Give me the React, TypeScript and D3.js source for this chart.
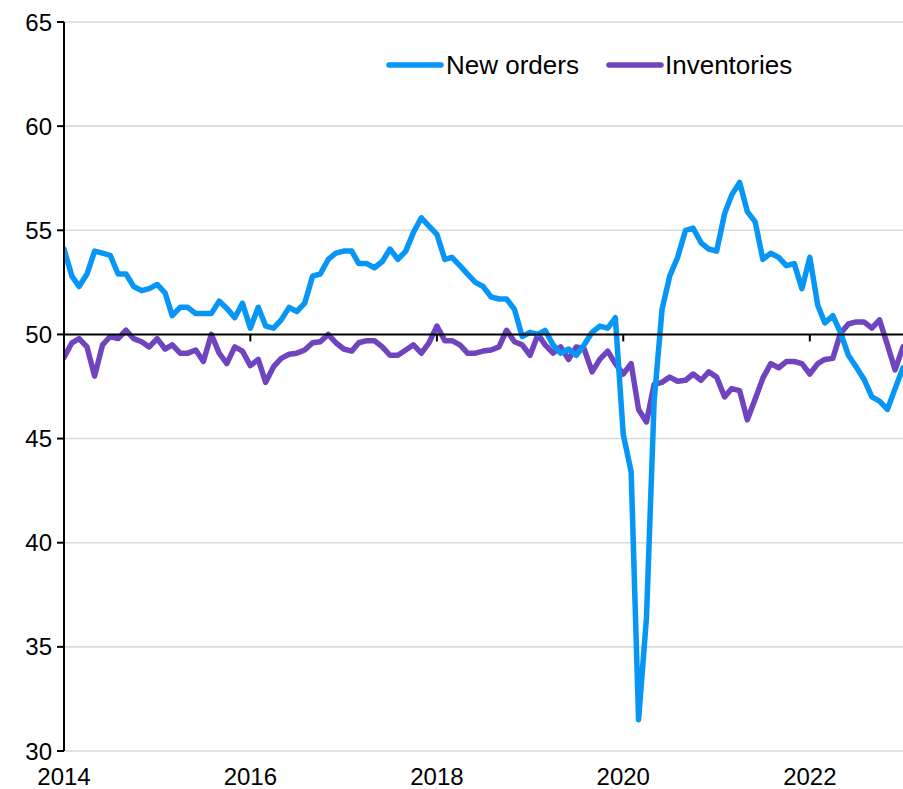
import React from "react";
import * as d3 from "d3";

const startDate = new Date(2014, 0, 1);
const endDate = new Date(2023, 0, 1);

const newOrders = [
  54.1, 52.8, 52.3, 52.9, 54.0, 53.9, 53.8, 52.9, 52.9, 52.3, 52.1, 52.2,
  52.4, 52.0, 50.9, 51.3, 51.3, 51.0, 51.0, 51.0, 51.6, 51.25, 50.8, 51.5,
  50.3, 51.3, 50.4, 50.3, 50.7, 51.3, 51.1, 51.5, 52.8, 52.9, 53.6, 53.9,
  54.0, 54.0, 53.4, 53.4, 53.2, 53.5, 54.1, 53.6, 54.0, 54.9, 55.6, 55.2,
  54.8, 53.6, 53.7, 53.3, 52.9, 52.5, 52.3, 51.8, 51.7, 51.7, 51.2, 49.9,
  50.1, 50.0, 50.2, 49.5, 49.1, 49.3, 49.0, 49.5, 50.1, 50.4, 50.3, 50.8,
  45.2, 43.4, 31.5, 36.4, 46.8, 51.2, 52.8, 53.7, 55.0, 55.1, 54.4, 54.1,
  54.0, 55.8, 56.7, 57.3, 55.9, 55.4, 53.6, 53.9, 53.7, 53.3, 53.4, 52.2,
  53.7, 51.4, 50.55, 50.9, 50.1, 49.0, 48.45, 47.85, 47.0, 46.8, 46.4, 47.4,
  48.4,
];

const inventories = [
  48.9, 49.6, 49.8, 49.4, 48.0, 49.5, 49.9, 49.8, 50.2, 49.8, 49.65, 49.4,
  49.8, 49.3, 49.5, 49.1, 49.1, 49.25, 48.7, 50.0, 49.1, 48.6, 49.4, 49.2,
  48.5, 48.8, 47.7, 48.45, 48.85, 49.05, 49.1, 49.25, 49.6, 49.65, 50.0, 49.6,
  49.3, 49.2, 49.6, 49.7, 49.7, 49.4, 49.0, 49.0, 49.25, 49.5, 49.1, 49.6,
  50.4, 49.7, 49.7, 49.5, 49.1, 49.1, 49.2, 49.25, 49.4, 50.2, 49.65, 49.5,
  49.0, 50.0, 49.5, 49.1, 49.4, 48.8, 49.4, 49.3, 48.2, 48.8, 49.2, 48.6,
  48.1, 48.6, 46.4, 45.8, 47.6, 47.7, 47.95, 47.75, 47.8, 48.1, 47.8, 48.2,
  47.95, 47.0, 47.4, 47.3, 45.9, 46.9, 47.9, 48.6, 48.4, 48.7, 48.7, 48.6,
  48.1, 48.6, 48.8, 48.85, 50.05, 50.5, 50.6, 50.6, 50.3, 50.7, 49.5, 48.3,
  49.4,
];

const yTicks = [30, 35, 40, 45, 50, 55, 60, 65];
const xTickYears = [2014, 2016, 2018, 2020, 2022];
const seriesNames = ["New orders", "Inventories"];
const seriesColors = ["#0796F6", "#7044BE"];

const W = 903;
const H = 789;
const left = 64;
const right = 903;
const top = 22;
const bottom = 751;

export default function App() {
  const dates = d3.range(newOrders.length).map((i) => d3.timeMonth.offset(startDate, i));
  const x = d3.scaleTime().domain([startDate, endDate]).range([left, right]);
  const y = d3.scaleLinear().domain([30, 65]).range([bottom, top]);
  const line = d3
    .line<number>()
    .x((_, i) => x(dates[i]))
    .y((d) => y(d))
    .curve(d3.curveLinear);
  const font = "'Liberation Sans', Arial, sans-serif";
  const y50 = y(50);

  return (
    <svg
      width={W}
      height={H}
      style={{ position: "absolute", left: 0, top: 0, background: "#fff" }}
      fontFamily={font}
    >
      <defs>
        <clipPath id="plotClip">
          <rect x={left} y={0} width={right - left} height={H} />
        </clipPath>
      </defs>
      {yTicks
        .filter((t) => t !== 50)
        .map((t) => (
          <line key={"g" + t} x1={left} x2={right} y1={y(t)} y2={y(t)} stroke="#d9d9d9" strokeWidth={1.6} />
        ))}
      <g clipPath="url(#plotClip)">
        {[inventories, newOrders].map((s, k) => (
          <path
            key={k}
            d={line(s) || ""}
            fill="none"
            stroke={k === 0 ? seriesColors[1] : seriesColors[0]}
            strokeWidth={5.5}
            strokeLinejoin="round"
            strokeLinecap="round"
          />
        ))}
      </g>
      {/* y axis */}
      <line x1={left} x2={left} y1={top} y2={bottom} stroke="#000" strokeWidth={2} />
      {yTicks.map((t) => (
        <g key={"yt" + t}>
          <line x1={left - 7} x2={left} y1={y(t)} y2={y(t)} stroke="#000" strokeWidth={2} />
          <text x={52} y={y(t)} textAnchor="end" dominantBaseline="central" fontSize={24} fill="#000">
            {t}
          </text>
        </g>
      ))}
      {/* x axis at 50 */}
      <line x1={left} x2={right} y1={y50} y2={y50} stroke="#000" strokeWidth={2} />
      {xTickYears.map((yr) => {
        const xp = x(new Date(yr, 0, 1));
        return (
          <g key={"xt" + yr}>
            <line x1={xp} x2={xp} y1={y50} y2={y50 + 7} stroke="#000" strokeWidth={2} />
            <text x={xp} y={776} textAnchor="middle" dominantBaseline="central" fontSize={24} fill="#000">
              {yr}
            </text>
          </g>
        );
      })}
      {/* legend */}
      <g>
        <line x1={389} x2={441} y1={65} y2={65} stroke={seriesColors[0]} strokeWidth={5.5} strokeLinecap="round" />
        <text x={446} y={65} dominantBaseline="central" fontSize={26} fill="#000">
          {seriesNames[0]}
        </text>
        <line x1={609} x2={661} y1={65} y2={65} stroke={seriesColors[1]} strokeWidth={5.5} strokeLinecap="round" />
        <text x={665} y={65} dominantBaseline="central" fontSize={26} fill="#000">
          {seriesNames[1]}
        </text>
      </g>
    </svg>
  );
}
